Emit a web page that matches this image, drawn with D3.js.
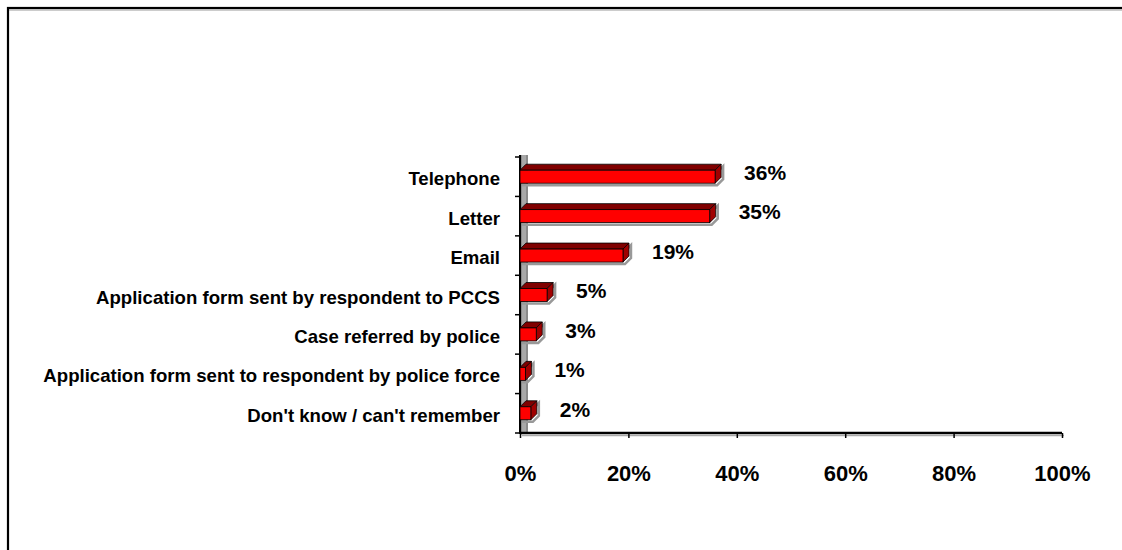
<!DOCTYPE html>
<html><head><meta charset="utf-8">
<script src="https://cdn.jsdelivr.net/npm/d3@7"></script>
<style>body{margin:0;background:#fff}svg{display:block}</style>
</head><body>
<svg id="c" width="1122" height="550"></svg>
<script>
const categories = ["Telephone","Letter","Email","Application form sent by respondent to PCCS","Case referred by police","Application form sent to respondent by police force","Don't know / can't remember"];
const values = [36,35,19,5,3,1,2];
const tickValues = [0,20,40,60,80,100];

const FONT = "Liberation Sans, Arial, sans-serif";
const svg = d3.select("#c");
const x = d3.scaleLinear().domain([0,100]).range([520,1062]);
const y = d3.scaleBand().domain(categories).range([157,433]).paddingInner(0.62).paddingOuter(0.31);
const dx = 6, dy = -6;

// frame
svg.append("rect").attr("x",8).attr("y",8).attr("width",1130).attr("height",560)
  .attr("fill","none").attr("stroke","#000").attr("stroke-width",2.2);
svg.append("line").attr("x1",9).attr("x2",1122).attr("y1",10).attr("y2",10).attr("stroke","#999").attr("stroke-width",1);

// back wall
svg.append("rect").attr("x",x(0)).attr("y",155).attr("width",dx+2).attr("height",433-155)
  .attr("fill","#8a8a8a");
svg.append("rect").attr("x",x(0)+2).attr("y",155).attr("width",dx-2).attr("height",433-155)
  .attr("fill","#a8a8a8");

// left axis
svg.append("line").attr("x1",x(0)).attr("x2",x(0)).attr("y1",155).attr("y2",434).attr("stroke","#000").attr("stroke-width",2);
const step = (433-157)/categories.length;
d3.range(categories.length+1).forEach(i=>{
  svg.append("line").attr("x1",x(0)-5).attr("x2",x(0)).attr("y1",157+i*step).attr("y2",157+i*step).attr("stroke","#000").attr("stroke-width",1.5);
});

// bottom axis floor
svg.append("line").attr("x1",x(0)).attr("x2",x(100)).attr("y1",433).attr("y2",433).attr("stroke","#000").attr("stroke-width",2.5);
svg.append("line").attr("x1",x(0)+2).attr("x2",x(100)+2).attr("y1",435.5).attr("y2",435.5).attr("stroke","#aaa").attr("stroke-width",1.5);

const xAxis = d3.axisBottom(x).tickValues(tickValues).tickSize(5).tickFormat(d=>d+"%").tickPadding(27);
const gx = svg.append("g").attr("transform","translate(0,433)").call(xAxis);
gx.select(".domain").remove();
gx.selectAll(".tick line").attr("stroke","#000").attr("stroke-width",1.5);
gx.selectAll(".tick text").attr("font-family",FONT).attr("font-weight","bold").attr("font-size","22px").attr("fill","#000");

// bars
const h = 13;
const bars = svg.append("g").selectAll("g").data(categories).join("g");
bars.each(function(c,i){
  const g = d3.select(this);
  const cy = y(c)+y.bandwidth()/2;
  const x0 = x(0), x1 = x(values[i]);
  const top = cy - h/2, bot = cy + h/2;
  // shadow
  g.append("path").attr("d",`M${x0+2},${bot+2}L${x1+2},${bot+2}L${x1+dx+2},${bot+dy+2}L${x1+dx+2},${top+dy+2}L${x1+2},${top+2}`)
    .attr("fill","none").attr("stroke","#999").attr("stroke-width",2.5);
  // top face
  g.append("path").attr("d",`M${x0},${top}L${x0+dx},${top+dy}L${x1+dx},${top+dy}L${x1},${top}Z`)
    .attr("fill","#800000").attr("stroke","#000").attr("stroke-width",0.8);
  // side face
  g.append("path").attr("d",`M${x1},${top}L${x1+dx},${top+dy}L${x1+dx},${bot+dy}L${x1},${bot}Z`)
    .attr("fill","#a00000").attr("stroke","#000").attr("stroke-width",0.8);
  // front
  g.append("rect").attr("x",x0).attr("y",top).attr("width",Math.max(0,x1-x0)).attr("height",h)
    .attr("fill","#ff0000").attr("stroke","#000").attr("stroke-width",0.8);
  // value label
  g.append("text").attr("x",x1+29).attr("y",cy-4).attr("dy","0.35em")
    .attr("font-family",FONT).attr("font-weight","bold").attr("font-size","21px")
    .text(values[i]+"%");
});

// category labels
svg.append("g").selectAll("text").data(categories).join("text")
  .attr("x",500).attr("y",d=>y(d)+y.bandwidth()/2+2).attr("dy","0.35em")
  .attr("text-anchor","end")
  .attr("font-family",FONT).attr("font-weight","bold").attr("font-size","18.6px")
  .text(d=>d);
</script>
</body></html>
